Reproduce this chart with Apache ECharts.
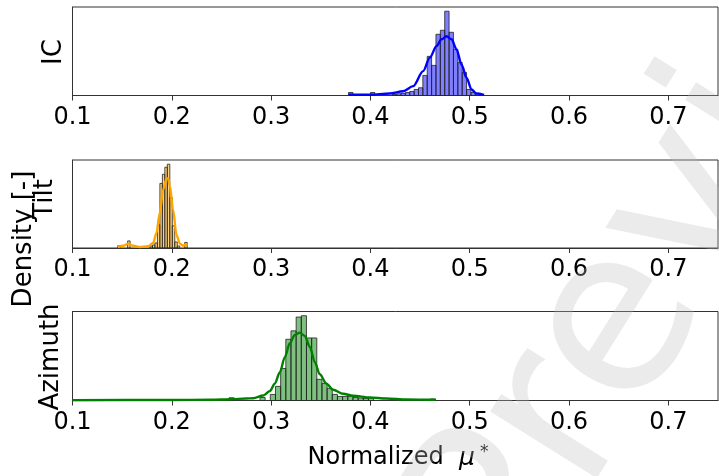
<!DOCTYPE html>
<html><head><meta charset="utf-8">
<script src="https://cdn.jsdelivr.net/npm/echarts@6/dist/echarts.min.js"></script>
<style>html,body{margin:0;padding:0;background:#fff}#c{width:719px;height:476px}</style>
</head><body><div id="c"></div>
<script>
// ---- data ----
const tickValues = [0.1, 0.2, 0.3, 0.4, 0.5, 0.6, 0.7];
const tickLabels = ['0.1', '0.2', '0.3', '0.4', '0.5', '0.6', '0.7'];
const panelNames = ['IC', 'Tilt', 'Azimuth'];
const yTitle = 'Density [-]';

const icBinStart = 0.378, icBinWidth = 0.0044;
const icCounts = [3, 0, 0, 0, 0, 3, 0, 0, 0, 0, 1, 1.7, 2, 3, 4, 6, 7.7, 20, 39, 30, 61, 65, 84, 63, 46, 33, 23, 6, 3, 1.7, 0.7];
const icKdeX = [0.378, 0.3994, 0.4195, 0.4329, 0.443, 0.4531, 0.4598, 0.4666, 0.4716, 0.4766, 0.4817, 0.4867, 0.4917, 0.4968, 0.5018, 0.5068, 0.5144];
const icKdeY = [0.7, 0.8, 2, 4.3, 9.3, 24.3, 37.7, 49.3, 56, 59, 56, 46, 31, 17.7, 6, 2, 0.7];

const tiltBinStart = 0.1455, tiltBinWidth = 0.0025;
const tiltCounts = [2.3, 0, 0, 0, 7, 0, 0, 0, 0, 0, 0, 0, 0, 2, 3, 5, 23, 64, 73, 80, 83, 50, 22, 6, 2, 0, 0, 5.5];
const tiltKdeX = [0.1455, 0.151, 0.156, 0.161, 0.1678, 0.1761, 0.1812, 0.1846, 0.1879, 0.1913, 0.1947, 0.1963, 0.198, 0.2013, 0.2047, 0.2081, 0.2114, 0.2141, 0.2155];
const tiltKdeY = [1, 2.3, 4.3, 2.3, 1, 1.7, 5, 15, 35, 58, 69, 69, 61.7, 38, 13, 4.3, 2.3, 3.3, 2.5];

const azBinStart = 0.2576, azBinWidth = 0.0052;
const azCounts = [2.7, 0, 0, 0, 0, 0, 3, 0, 6, 14, 31.7, 60.7, 69, 82.7, 84, 62, 62, 21, 17, 12, 6, 4, 4, 4, 3, 2.5, 2, 2.7, 0, 0, 0, 0, 0, 0, 0, 0, 0, 0, 0, 1.5];
const azKdeX = [0.1, 0.2, 0.24, 0.26, 0.275, 0.2819, 0.292, 0.2987, 0.3037, 0.3088, 0.3138, 0.3188, 0.3239, 0.3289, 0.3339, 0.339, 0.344, 0.349, 0.3558, 0.3624, 0.3725, 0.3826, 0.3994, 0.4162, 0.4363, 0.4628, 0.4656];
const azKdeY = [0.3, 0.5, 0.8, 1.3, 2, 2.3, 5, 9.3, 16.7, 28, 43, 56.7, 65, 67.3, 64, 53, 38, 26, 16.7, 10.7, 6.7, 4.7, 3, 2, 1, 0.7, 0.7];

// ---- build ----
const panels = [
  {start: icBinStart, w: icBinWidth, counts: icCounts, kx: icKdeX, ky: icKdeY, fill: 'rgba(0,0,255,0.5)', line: '#0000ff'},
  {start: tiltBinStart, w: tiltBinWidth, counts: tiltCounts, kx: tiltKdeX, ky: tiltKdeY, fill: 'rgba(255,165,0,0.5)', line: '#ffa500'},
  {start: azBinStart, w: azBinWidth, counts: azCounts, kx: azKdeX, ky: azKdeY, fill: 'rgba(0,128,0,0.5)', line: '#008000'}
];
const gridPos = [
  {top: 7, height: 88.5},
  {top: 160, height: 88},
  {top: 311.5, height: 89}
];
const FONT = 'DejaVu Sans';
const grids = [], xAxes = [], yAxes = [], series = [];
panels.forEach((p, i) => {
  grids.push({left: 72.5, width: 645.5, top: gridPos[i].top, height: gridPos[i].height,
    show: true, borderColor: '#333', borderWidth: 1, backgroundColor: 'transparent'});
  xAxes.push({type: 'value', gridIndex: i, min: 0.1, max: 0.75,
    axisLine: {show: true, lineStyle: {color: '#333', width: 1}},
    axisTick: {show: true, length: 5, customValues: tickValues, lineStyle: {color: '#333', width: 1}},
    axisLabel: {show: true, customValues: tickValues, margin: 10, fontFamily: FONT, fontSize: 24, color: '#000',
      formatter: v => tickLabels[tickValues.findIndex(t => Math.abs(t - v) < 1e-9)] || ''},
    splitLine: {show: false}});
  const ymax = Math.max(...p.counts, ...p.ky) * 1.05;
  yAxes.push({type: 'value', gridIndex: i, min: 0, max: ymax,
    axisLine: {show: true, lineStyle: {color: '#333', width: 1}},
    axisTick: {show: false}, axisLabel: {show: false}, splitLine: {show: false}});
  const bars = [];
  p.counts.forEach((c, k) => { if (c > 0) bars.push([p.start + k * p.w, p.start + (k + 1) * p.w, c]); });
  series.push({type: 'custom', xAxisIndex: i, yAxisIndex: i, data: bars, encode: {x: [0, 1], y: 2},
    clip: true, silent: true,
    renderItem: (params, api) => {
      const a = api.coord([api.value(0), api.value(2)]);
      const b = api.coord([api.value(1), 0]);
      return {type: 'rect', shape: {x: a[0], y: a[1], width: b[0] - a[0], height: b[1] - a[1]},
        style: {fill: p.fill, stroke: '#222', lineWidth: 0.8}};
    }, z: 2});
  series.push({type: 'line', xAxisIndex: i, yAxisIndex: i, data: p.kx.map((x, k) => [x, p.ky[k]]),
    showSymbol: false, smooth: 0.3, smoothMonotone: 'x', clip: true, silent: true,
    lineStyle: {color: p.line, width: 2.4}, z: 3});
});

const chart = echarts.init(document.getElementById('c'), null, {renderer: 'canvas'});
const labelStyle = (txt, x, y) => ({type: 'text', x: x, y: y, rotation: Math.PI / 2,
  style: {text: txt, fontFamily: FONT, fontSize: 26, fill: '#000', align: 'center', verticalAlign: 'middle'}});
chart.setOption({
  animation: false,
  backgroundColor: '#fff',
  grid: grids, xAxis: xAxes, yAxis: yAxes, series: series,
  graphic: [
    labelStyle(panelNames[0], 54, 52),
    labelStyle(panelNames[1], 45, 199),
    labelStyle(panelNames[2], 51, 357),
    labelStyle(yTitle, 24, 239),
    {type: 'text', x: 398, y: 458, style: {
      text: '{a|Normalized  }{b|μ}{c|*}', align: 'center', verticalAlign: 'middle',
      rich: {
        a: {fontFamily: FONT, fontSize: 24, fill: '#000', lineHeight: 28},
        b: {fontFamily: FONT, fontStyle: 'italic', fontSize: 25, fill: '#000', lineHeight: 28},
        c: {fontFamily: FONT, fontSize: 17, fill: '#000', verticalAlign: 'top', lineHeight: 16, padding: [0, 0, 0, 5]}
      }}},
    {type: 'text', x: 701, y: 199, rotation: 58 * Math.PI / 180, z: 100,
      style: {text: 'Preview', fontFamily: FONT, fontSize: 230,
        fill: 'rgba(190,190,190,0.3)', align: 'center', verticalAlign: 'middle'}}
  ]
});
</script></body></html>
